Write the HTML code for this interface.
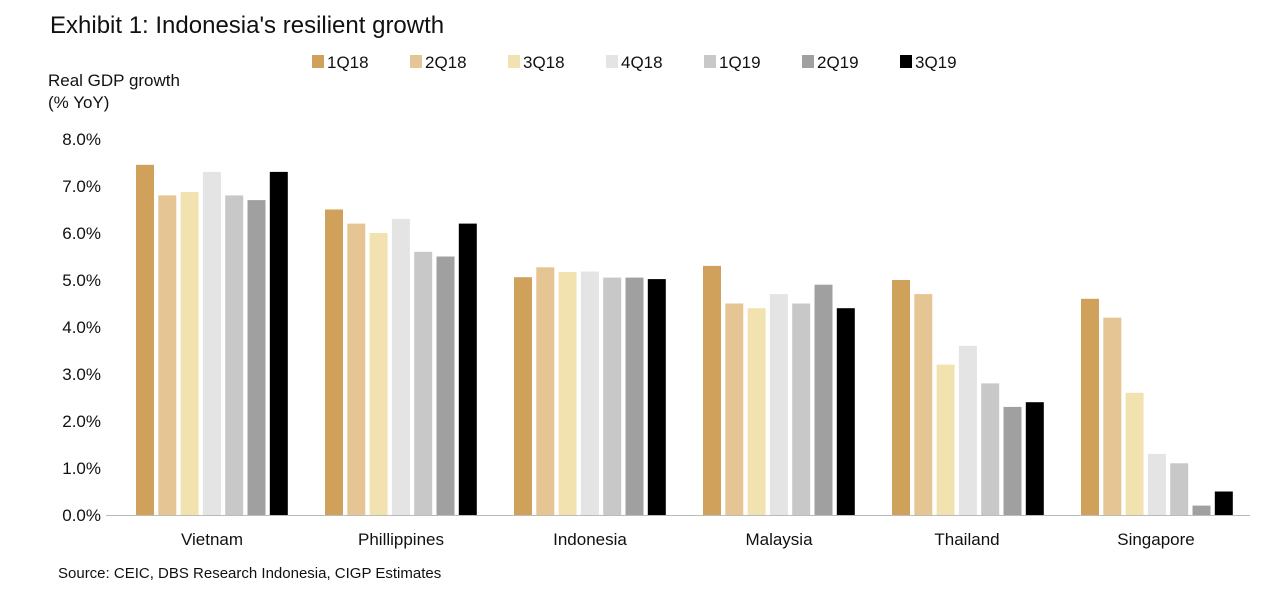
<!DOCTYPE html>
<html><head><meta charset="utf-8"><style>
html,body{margin:0;padding:0;background:#fff;}
svg{display:block;font-family:"Liberation Sans",sans-serif;}
.a{fill:#D0A15A}.b{fill:#E5C594}.c{fill:#F2E2B0}.d{fill:#E4E4E4}.e{fill:#C8C8C8}.f{fill:#A0A0A0}.g{fill:#000}
</style></head><body>
<svg width="1284" height="592" viewBox="0 0 1284 592" xmlns="http://www.w3.org/2000/svg">
<text x="50" y="33" font-size="24" fill="#111">Exhibit 1: Indonesia's resilient growth</text>
<text x="48" y="86" font-size="17" fill="#111">Real GDP growth</text>
<text x="48" y="108" font-size="17" fill="#111">(% YoY)</text>
<g font-size="17" fill="#111">
<rect x="312" y="55" width="12" height="13" class="a"/><text x="327" y="68">1Q18</text>
<rect x="410" y="55" width="12" height="13" class="b"/><text x="425" y="68">2Q18</text>
<rect x="508" y="55" width="12" height="13" class="c"/><text x="523" y="68">3Q18</text>
<rect x="606" y="55" width="12" height="13" class="d"/><text x="621" y="68">4Q18</text>
<rect x="704" y="55" width="12" height="13" class="e"/><text x="719" y="68">1Q19</text>
<rect x="802" y="55" width="12" height="13" class="f"/><text x="817" y="68">2Q19</text>
<rect x="900" y="55" width="12" height="13" class="g"/><text x="915" y="68">3Q19</text>
</g>
<g font-size="17" fill="#111" text-anchor="end">
<text x="101" y="521">0.0%</text><text x="101" y="474">1.0%</text><text x="101" y="427">2.0%</text>
<text x="101" y="380">3.0%</text><text x="101" y="333">4.0%</text><text x="101" y="286">5.0%</text>
<text x="101" y="239">6.0%</text><text x="101" y="192">7.0%</text><text x="101" y="145">8.0%</text>
</g>
<g>
<rect class="a" x="136" y="164.8" width="18" height="350.2"/>
<rect class="b" x="158.3" y="195.4" width="18" height="319.6"/>
<rect class="c" x="180.6" y="192.1" width="18" height="322.9"/>
<rect class="d" x="202.9" y="171.9" width="18" height="343.1"/>
<rect class="e" x="225.2" y="195.4" width="18" height="319.6"/>
<rect class="f" x="247.5" y="200.1" width="18" height="314.9"/>
<rect class="g" x="269.8" y="171.9" width="18" height="343.1"/>

<rect class="a" x="325" y="209.5" width="18" height="305.5"/>
<rect class="b" x="347.3" y="223.6" width="18" height="291.4"/>
<rect class="c" x="369.6" y="233" width="18" height="282"/>
<rect class="d" x="391.9" y="218.9" width="18" height="296.1"/>
<rect class="e" x="414.2" y="251.8" width="18" height="263.2"/>
<rect class="f" x="436.5" y="256.5" width="18" height="258.5"/>
<rect class="g" x="458.8" y="223.6" width="18" height="291.4"/>

<rect class="a" x="514" y="277.2" width="18" height="237.8"/>
<rect class="b" x="536.3" y="267.3" width="18" height="247.7"/>
<rect class="c" x="558.6" y="272" width="18" height="243"/>
<rect class="d" x="580.9" y="271.5" width="18" height="243.5"/>
<rect class="e" x="603.2" y="277.6" width="18" height="237.4"/>
<rect class="f" x="625.5" y="277.6" width="18" height="237.4"/>
<rect class="g" x="647.8" y="279.1" width="18" height="235.9"/>

<rect class="a" x="703" y="265.9" width="18" height="249.1"/>
<rect class="b" x="725.3" y="303.5" width="18" height="211.5"/>
<rect class="c" x="747.6" y="308.2" width="18" height="206.8"/>
<rect class="d" x="769.9" y="294.1" width="18" height="220.9"/>
<rect class="e" x="792.2" y="303.5" width="18" height="211.5"/>
<rect class="f" x="814.5" y="284.7" width="18" height="230.3"/>
<rect class="g" x="836.8" y="308.2" width="18" height="206.8"/>

<rect class="a" x="892" y="280" width="18" height="235"/>
<rect class="b" x="914.3" y="294.1" width="18" height="220.9"/>
<rect class="c" x="936.6" y="364.6" width="18" height="150.4"/>
<rect class="d" x="958.9" y="345.8" width="18" height="169.2"/>
<rect class="e" x="981.2" y="383.4" width="18" height="131.6"/>
<rect class="f" x="1003.5" y="406.9" width="18" height="108.1"/>
<rect class="g" x="1025.8" y="402.2" width="18" height="112.8"/>

<rect class="a" x="1081" y="298.8" width="18" height="216.2"/>
<rect class="b" x="1103.3" y="317.6" width="18" height="197.4"/>
<rect class="c" x="1125.6" y="392.8" width="18" height="122.2"/>
<rect class="d" x="1147.9" y="453.9" width="18" height="61.1"/>
<rect class="e" x="1170.2" y="463.3" width="18" height="51.7"/>
<rect class="f" x="1192.5" y="505.6" width="18" height="9.4"/>
<rect class="g" x="1214.8" y="491.5" width="18" height="23.5"/>
</g>
<line x1="106" y1="515.5" x2="1250" y2="515.5" stroke="#bbb" stroke-width="1"/>
<g font-size="17" fill="#111" text-anchor="middle">
<text x="212" y="545">Vietnam</text><text x="401" y="545">Phillippines</text><text x="590" y="545">Indonesia</text>
<text x="779" y="545">Malaysia</text><text x="967" y="545">Thailand</text><text x="1156" y="545">Singapore</text>
</g>
<text x="58" y="578" font-size="15" fill="#111">Source: CEIC, DBS Research Indonesia, CIGP Estimates</text>
</svg>
</body></html>
